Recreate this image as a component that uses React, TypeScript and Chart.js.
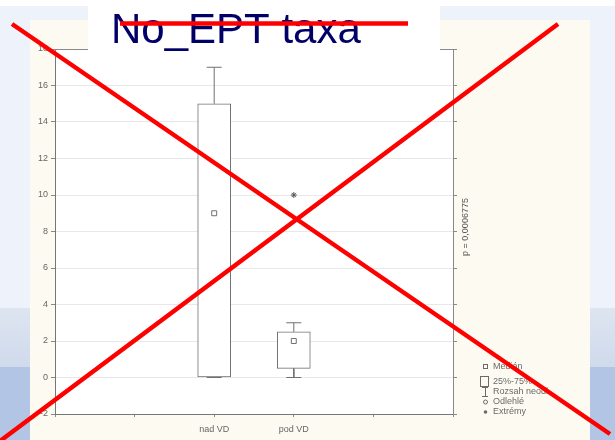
import { useEffect, useRef } from 'react';
import { Chart, registerables } from 'chart.js';

Chart.register(...registerables);

// ---- data ----
const tickLabels = ['', '', 'nad VD', 'pod VD', '', ''];
const categories = ['nad VD', 'pod VD'];
const medians = [9, 2];
const q1 = [0, 0.5];
const q3 = [15, 2.5];
const whiskerLow = [0, 0];
const whiskerHigh = [17, 3];
const extremeCats = ['pod VD'];
const extremeValues = [10];
const yMin = -2;
const yMax = 18;
const yStep = 2;
const titleText = 'No_EPT taxa';
const pText = 'p = 0,0006775';
const legendItems = ['Medián', '25%-75%', 'Rozsah neodl.', 'Odlehlé', 'Extrémy'];

const FONT = '"Liberation Sans", Arial, sans-serif';
const GRAY = '#707070';

export default function App() {
  const ref = useRef<HTMLCanvasElement>(null);

  useEffect(() => {
    const canvas = ref.current;
    if (!canvas) return;

    const bgPlugin = {
      id: 'slideBg',
      beforeDraw(chart: any) {
        const ctx = chart.ctx;
        const { width, height } = chart;
        ctx.save();
        ctx.fillStyle = '#eef2fa';
        ctx.fillRect(0, 0, width, height);
        ctx.fillStyle = '#ffffff';
        ctx.fillRect(0, 0, width, 6);
        const g = ctx.createLinearGradient(0, 308, 0, 367);
        g.addColorStop(0, '#dee5f1');
        g.addColorStop(1, '#d0daec');
        ctx.fillStyle = g;
        ctx.fillRect(0, 308, width, 59);
        ctx.fillStyle = '#b3c5e5';
        ctx.fillRect(0, 367, width, height - 367);
        ctx.fillStyle = '#fdfaf1';
        ctx.fillRect(30, 20, 560, height - 20);
        const a = chart.chartArea;
        ctx.fillStyle = '#ffffff';
        ctx.fillRect(a.left, a.top, a.right - a.left, a.bottom - a.top);
        ctx.restore();
      },
      afterDraw(chart: any) {
        const ctx = chart.ctx;
        const a = chart.chartArea;
        ctx.save();
        // top frame line
        ctx.strokeStyle = '#8a8a8a';
        ctx.lineWidth = 1;
        ctx.beginPath();
        ctx.moveTo(a.left, a.top + 0.5);
        ctx.lineTo(a.right, a.top + 0.5);
        ctx.stroke();

        // title box + title
        ctx.fillStyle = '#ffffff';
        ctx.fillRect(88, 0, 352, 50);
        ctx.fillStyle = '#000066';
        ctx.font = `42px ${FONT}`;
        ctx.textBaseline = 'alphabetic';
        ctx.textAlign = 'left';
        ctx.fillText(titleText, 111, 43);

        // p value (rotated)
        ctx.save();
        ctx.translate(466, 227);
        ctx.rotate(-Math.PI / 2);
        ctx.font = `9px ${FONT}`;
        ctx.fillStyle = '#555555';
        ctx.textAlign = 'center';
        ctx.textBaseline = 'middle';
        ctx.fillText(pText, 0, 0);
        ctx.restore();

        // legend
        const rows = [367, 382, 392, 402, 412];
        ctx.font = `9px ${FONT}`;
        ctx.fillStyle = '#6a6a6a';
        ctx.textAlign = 'left';
        ctx.textBaseline = 'middle';
        legendItems.forEach((t, i) => ctx.fillText(t, 493, rows[i]));
        ctx.strokeStyle = '#6a6a6a';
        ctx.lineWidth = 1;
        ctx.strokeRect(483.5, rows[0] - 2.5, 4, 4);
        ctx.strokeRect(480.5, rows[1] - 5.5, 8, 10);
        ctx.beginPath();
        ctx.moveTo(482, rows[2] - 4.5); ctx.lineTo(488, rows[2] - 4.5);
        ctx.moveTo(485.5, rows[2] - 4.5); ctx.lineTo(485.5, rows[2] + 4.5);
        ctx.moveTo(482, rows[2] + 4.5); ctx.lineTo(488, rows[2] + 4.5);
        ctx.stroke();
        ctx.beginPath();
        ctx.arc(485.5, rows[3], 2, 0, Math.PI * 2);
        ctx.stroke();
        ctx.fillStyle = '#6a6a6a';
        ctx.beginPath();
        ctx.arc(485.5, rows[4], 1.8, 0, Math.PI * 2);
        ctx.fill();

        // red cross + strike
        ctx.strokeStyle = '#ff0000';
        ctx.lineWidth = 4.5;
        ctx.lineCap = 'butt';
        ctx.beginPath();
        ctx.moveTo(120, 23.5); ctx.lineTo(408, 23.5);
        ctx.moveTo(12, 24); ctx.lineTo(610, 434);
        ctx.moveTo(558, 24); ctx.lineTo(0, 441);
        ctx.stroke();
        ctx.restore();
      },
    };

    const whiskerSets: any[] = [];
    categories.forEach((c, i) => {
      whiskerSets.push({
        type: 'line',
        data: [{ x: c, y: q3[i] }, { x: c, y: whiskerHigh[i] }],
        borderColor: GRAY,
        borderWidth: 1,
        pointStyle: 'line',
        pointRadius: [0, 7.5],
        pointBorderColor: GRAY,
        pointBorderWidth: 1,
        fill: false,
      });
      whiskerSets.push({
        type: 'line',
        data: [{ x: c, y: q1[i] }, { x: c, y: whiskerLow[i] }],
        borderColor: GRAY,
        borderWidth: 1,
        pointStyle: 'line',
        pointRadius: [0, 7.5],
        pointBorderColor: GRAY,
        pointBorderWidth: 1,
        fill: false,
      });
    });

    const chart = new Chart(canvas, {
      type: 'bar',
      data: {
        labels: tickLabels,
        datasets: [
          {
            type: 'line',
            data: extremeCats.map((c, i) => ({ x: c, y: extremeValues[i] })),
            showLine: false,
            pointStyle: 'star',
            pointRadius: 3,
            pointBorderColor: '#555555',
            pointBorderWidth: 1,
          } as any,
          {
            type: 'line',
            data: categories.map((c, i) => ({ x: c, y: medians[i] })),
            showLine: false,
            pointStyle: 'rect',
            pointRadius: 3.5,
            pointBackgroundColor: '#ffffff',
            pointBorderColor: GRAY,
            pointBorderWidth: 1,
          } as any,
          {
            type: 'bar',
            data: categories.map((c, i) => ({ x: c, y: [q1[i], q3[i]] })),
            backgroundColor: '#ffffff',
            borderColor: GRAY,
            borderWidth: 1,
            borderSkipped: false,
            barThickness: 33,
          } as any,
          ...whiskerSets,
        ],
      },
      options: {
        responsive: false,
        animation: false,
        devicePixelRatio: 1,
        layout: { padding: { left: 0, right: 158, top: 49, bottom: 0 } },
        plugins: {
          legend: { display: false },
          tooltip: { enabled: false },
          title: { display: false },
        },
        scales: {
          x: {
            type: 'category',
            offset: false,
            grid: { offset: false, drawOnChartArea: false, drawTicks: true, tickLength: 3, color: '#888888' },
            border: { color: '#777777' },
            ticks: {
              autoSkip: false,
              maxRotation: 0,
              minRotation: 0,
              padding: 7,
              color: '#666666',
              font: { family: FONT, size: 9 },
            },
            afterFit: (s: any) => { s.height = 26; },
          },
          y: {
            type: 'linear',
            position: 'left',
            min: yMin,
            max: yMax,
            ticks: {
              stepSize: yStep,
              padding: 3,
              color: '#666666',
              font: { family: FONT, size: 9 },
            },
            grid: { color: '#e8e8e8', tickColor: '#888888', tickLength: 4 },
            border: { color: '#777777' },
            afterFit: (s: any) => { s.width = 55; },
          },
          y2: {
            type: 'linear',
            position: 'right',
            min: yMin,
            max: yMax,
            ticks: { stepSize: yStep, display: false },
            grid: { drawOnChartArea: false, tickColor: '#888888', tickLength: 4 },
            border: { color: '#888888' },
            afterFit: (s: any) => { s.width = 4; },
          },
        },
      } as any,
      plugins: [bgPlugin],
    });

    return () => chart.destroy();
  }, []);

  return (
    <div style={{ position: 'absolute', left: 0, top: 0, width: 615, height: 440 }}>
      <canvas ref={ref} width={615} height={440} style={{ display: 'block', width: 615, height: 440 }} />
    </div>
  );
}
